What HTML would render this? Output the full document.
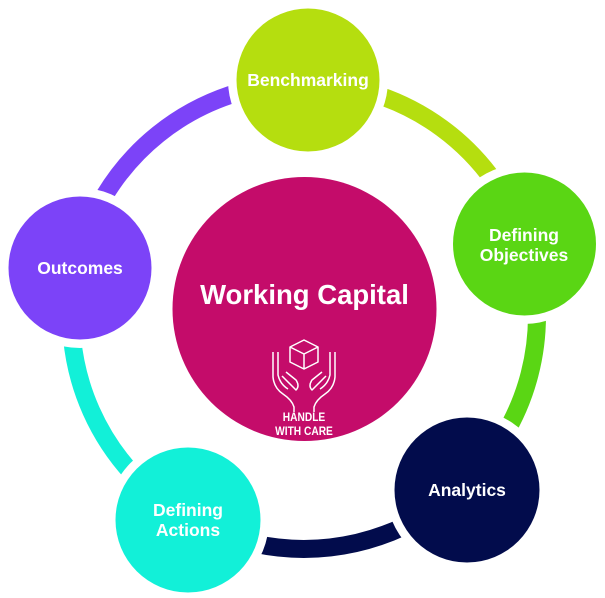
<!DOCTYPE html>
<html><head><style>body{margin:0;background:#fff}svg{display:block}</style></head><body>
<svg width="605" height="598" viewBox="0 0 605 598" xmlns="http://www.w3.org/2000/svg" font-family="Liberation Sans, sans-serif">
<g fill="none" stroke-width="18">
<path d="M306 83 A233 233 0 0 1 525.6 244" stroke="#b5de0f"/>
<path d="M525.6 244 A233 233 0 0 1 462.9 486.3" stroke="#5ad614"/>
<path d="M462.9 486.3 A233 233 0 0 1 187.5 517.8" stroke="#020c4c"/>
<path d="M187.5 517.8 A233 233 0 0 1 76.1 267.6" stroke="#12f0d8"/>
<path d="M76.1 267.6 A233 233 0 0 1 306 83" stroke="#7c43f8"/>
</g>
<g fill="#fff">
<circle cx="308" cy="80" r="80"/>
<circle cx="524" cy="244" r="80"/>
<circle cx="467" cy="490" r="81"/>
<circle cx="188" cy="520" r="81"/>
<circle cx="80" cy="268" r="80"/>
</g>
<circle cx="308" cy="80" r="71.5" fill="#b5de0f"/>
<circle cx="524.5" cy="244" r="71.5" fill="#5ad614"/>
<circle cx="467" cy="490" r="72.5" fill="#020c4c"/>
<circle cx="188" cy="520" r="72.5" fill="#12f0d8"/>
<circle cx="80" cy="268" r="71.5" fill="#7c43f8"/>
<circle cx="304.5" cy="309" r="132" fill="#c40c6a"/>
<g fill="#fff" font-weight="bold" font-size="17.5" text-anchor="middle">
<text x="308" y="86">Benchmarking</text>
<text x="524" y="241">Defining</text><text x="524" y="261">Objectives</text>
<text x="467" y="496">Analytics</text>
<text x="188" y="516">Defining</text><text x="188" y="536">Actions</text>
<text x="80" y="274">Outcomes</text>
<text x="304.5" y="304" font-size="27.5">Working Capital</text>
<text x="304" y="421" font-size="12" transform="translate(304 0) scale(0.85 1) translate(-304 0)">HANDLE</text>
<text x="304" y="435" font-size="12" transform="translate(304 0) scale(0.85 1) translate(-304 0)">WITH CARE</text>
</g>
<g fill="none" stroke="#fff" stroke-width="1.5" stroke-linejoin="round">
<path d="M304 340 L318 347 L318 362 L304 369 L290 362 L290 347 Z M290 347 L304 354 L318 347 M304 354 V369"/>
<path d="M273 352 V377 Q274 388 283 394 Q292 400 294 407 V412 M278 352 V375 Q280 384 288 389 M282 376 L296 390 Q300 386 296 380 L286 372"/>
<path d="M335 352 V377 Q334 388 325 394 Q316 400 314 407 V412 M330 352 V375 Q328 384 320 389 M326 376 L312 390 Q308 386 312 380 L322 372"/>
</g>
</svg>
</body></html>
